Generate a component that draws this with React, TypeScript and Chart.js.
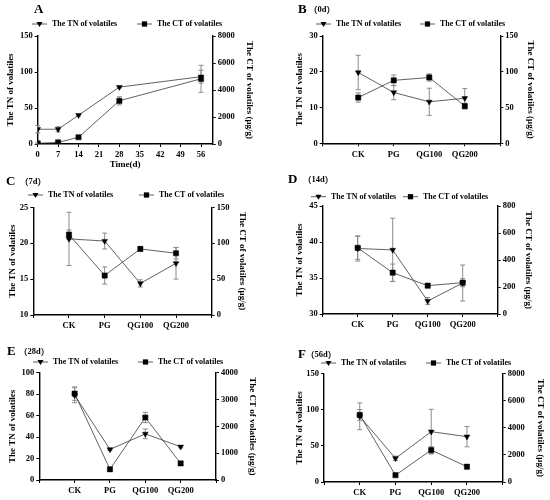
import { useEffect, useRef } from "react";
import { Chart, registerables } from "chart.js";

Chart.register(...registerables);

const FONT = '"Liberation Serif", "Noto Sans CJK SC", serif';
const CJK = '"Noto Sans CJK SC", "Liberation Serif", serif';

const days = [0, 7, 14, 28, 56];
const groups = ["CK", "PG", "QG100", "QG200"];
const groupPos = [1, 2, 3, 4];

// A: time course
const tnA = [20.5, 20.5, 40, 79, 93.5];
const tnAErr = [5, 3.5, 1, 1, 9];
const ctA = [50, 120, 500, 3200, 4830];
const ctAErr = [40, 40, 60, 300, 1000];
// B: 0d
const tnB = [19.8, 14.2, 11.6, 12.6];
const tnBErr = [4.8, 2, 3.8, 2.7];
const ctB = [64, 88, 92, 52];
const ctBErr = [6.5, 7.5, 5, 4];
// C: 7d
const tnC = [20.6, 20.3, 14.4, 17.2];
const tnCErr = [3.7, 1.1, 0.5, 2.2];
const ctC = [112, 55, 92, 86];
const ctCErr = [6.5, 12, 3, 8];
// D: 14d
const tnD = [39.1, 38.9, 31.8, 34.3];
const tnDErr = [1.75, 4.4, 0.5, 2.5];
const ctD = [490, 306, 210, 232];
const ctDErr = [85, 64, 15, 30];
// E: 28d
const tnE = [79, 28.5, 43, 31];
const tnEErr = [7, 1, 4.5, 1];
const ctE = [3220, 400, 2330, 620];
const ctEErr = [250, 40, 190, 50];
// F: 56d
const tnF = [91, 32.8, 69.7, 62.8];
const tnFErr = [18.5, 3, 31, 14];
const ctF = [4950, 500, 2360, 1130];
const ctFErr = [400, 50, 250, 160];

const TN_LABEL = "The TN of volatiles";
const CT_LABEL = "The CT of volatiles";
const CT_TITLE = "The CT of volatiles (μg/g)";

type Spec = {
  box: { x: number; y: number; w: number; h: number };
  area: { l: number; t: number; r: number; b: number };
  letter: string;
  letterX: number;
  letterY: number;
  sub?: string;
  subX?: number;
  legendX: [number, number];
  legendY: number;
  xs: number[];
  xMin: number;
  xMax: number;
  xStep: number;
  xNames?: string[];
  xTitle?: string;
  xTitleY?: number;
  tn: number[];
  tnErr: number[];
  ct: number[];
  ctErr: number[];
  yMin: number;
  yMax: number;
  yStep: number;
  y1Max: number;
  y1Step: number;
  leftTitleX: number;
  rightTitleX: number;
};

const errorBars = {
  id: "errorBars",
  beforeDatasetsDraw(chart: any) {
    const { ctx } = chart;
    ctx.save();
    ctx.strokeStyle = "#8c8c8c";
    ctx.lineWidth = 1;
    chart.data.datasets.forEach((ds: any, i: number) => {
      const meta = chart.getDatasetMeta(i);
      const scale = chart.scales[meta.yAxisID];
      (ds.errors || []).forEach((e: number, j: number) => {
        const pt = meta.data[j];
        const v = ds.data[j].y;
        const top = scale.getPixelForValue(v + e);
        const bot = scale.getPixelForValue(v - e);
        ctx.beginPath();
        ctx.moveTo(pt.x, top);
        ctx.lineTo(pt.x, bot);
        ctx.moveTo(pt.x - 2.5, top);
        ctx.lineTo(pt.x + 2.5, top);
        ctx.moveTo(pt.x - 2.5, bot);
        ctx.lineTo(pt.x + 2.5, bot);
        ctx.stroke();
      });
    });
    ctx.restore();
  },
};

function marker(ctx: CanvasRenderingContext2D, kind: string, x: number, y: number) {
  ctx.fillStyle = "#000";
  if (kind === "tri") {
    ctx.beginPath();
    ctx.moveTo(x - 3, y - 2);
    ctx.lineTo(x + 3, y - 2);
    ctx.lineTo(x, y + 3);
    ctx.closePath();
    ctx.fill();
  } else {
    ctx.fillRect(x - 2.6, y - 2.6, 5.2, 5.2);
  }
}

function decorations(s: Spec) {
  return {
    id: "decorations",
    afterDraw(chart: any) {
      const { ctx } = chart;
      const ox = s.box.x;
      const oy = s.box.y;
      ctx.save();
      ctx.fillStyle = "#000";
      ctx.textBaseline = "middle";
      ctx.textAlign = "left";
      ctx.font = `bold 13px ${FONT}`;
      ctx.fillText(s.letter, s.letterX - ox, s.letterY - oy);
      if (s.sub) {
        // full-width brackets from the CJK font, the day count in serif
        let x = (s.subX as number) - ox;
        const y = s.letterY - oy;
        const parts: [string, string][] = [
          ["（", CJK],
          [s.sub, FONT],
          ["）", CJK],
        ];
        parts.forEach(([t, f]) => {
          ctx.font = `bold 8.5px ${f}`;
          ctx.fillText(t, x, y);
          x += ctx.measureText(t).width;
        });
      }
      const items: [string, string][] = [
        ["tri", TN_LABEL],
        ["rect", CT_LABEL],
      ];
      items.forEach(([kind, text], k) => {
        const x0 = s.legendX[k] - ox;
        const y = s.legendY - oy;
        ctx.strokeStyle = "#333";
        ctx.lineWidth = 0.8;
        ctx.beginPath();
        ctx.moveTo(x0, y);
        ctx.lineTo(x0 + 15, y);
        ctx.stroke();
        marker(ctx, kind, x0 + 7.5, y);
        ctx.fillStyle = "#000";
        ctx.font = `bold 8px ${FONT}`;
        ctx.fillText(text, x0 + 20, y);
      });
      ctx.restore();
    },
  };
}

const tickFont = { family: FONT, size: 8.5, weight: "bold" as const };
const titleFont = { family: FONT, size: 9, weight: "bold" as const };
const HALF_LH = 9 * 1.2 / 2;

function Panel({ s }: { s: Spec }) {
  const canvasRef = useRef<HTMLCanvasElement>(null);

  useEffect(() => {
    const canvas = canvasRef.current;
    if (!canvas) return;
    const { box, area } = s;
    const axisBase = {
      grid: { drawOnChartArea: false, drawTicks: true, tickLength: 3, color: "#000", lineWidth: 1 },
      border: { display: true, color: "#000", width: 1.4 },
    };
    const chart = new Chart(canvas, {
      type: "line",
      data: {
        datasets: [
          {
            label: TN_LABEL,
            data: s.xs.map((x, i) => ({ x, y: s.tn[i] })),
            errors: s.tnErr,
            yAxisID: "y",
            borderColor: "#3a3a3a",
            borderWidth: 0.8,
            pointStyle: "triangle",
            pointRotation: 180,
            pointRadius: 3.3,
            pointBackgroundColor: "#000",
            pointBorderColor: "#000",
            pointBorderWidth: 0.5,
          } as any,
          {
            label: CT_LABEL,
            data: s.xs.map((x, i) => ({ x, y: s.ct[i] })),
            errors: s.ctErr,
            yAxisID: "y1",
            borderColor: "#3a3a3a",
            borderWidth: 0.8,
            pointStyle: "rect",
            pointRadius: 3.7,
            pointBackgroundColor: "#000",
            pointBorderColor: "#000",
            pointBorderWidth: 0.5,
          } as any,
        ],
      },
      options: {
        animation: false,
        responsive: true,
        maintainAspectRatio: false,
        layout: { padding: { top: area.t - box.y, left: 0, right: 0, bottom: 0 } },
        plugins: {
          legend: { display: false },
          title: { display: false },
          tooltip: { enabled: false },
        },
        scales: {
          x: {
            type: "linear",
            position: "bottom",
            min: s.xMin,
            max: s.xMax,
            afterFit: (sc: any) => {
              sc.height = box.y + box.h - area.b;
              sc.paddingLeft = 0;
              sc.paddingRight = 0;
            },
            ticks: {
              stepSize: s.xStep,
              includeBounds: false,
              autoSkip: false,
              maxRotation: 0,
              padding: 3,
              color: "#000",
              font: tickFont,
              callback: (v: any) => (s.xNames ? s.xNames[Number(v) - 1] ?? "" : String(v)),
            },
            title: s.xTitle
              ? {
                  display: true,
                  text: s.xTitle,
                  color: "#000",
                  font: titleFont,
                  padding: { top: 0, bottom: box.y + box.h - (s.xTitleY as number) - HALF_LH },
                }
              : { display: false },
            ...axisBase,
          },
          y: {
            position: "left",
            min: s.yMin,
            max: s.yMax,
            afterFit: (sc: any) => {
              sc.width = area.l - box.x;
              sc.paddingTop = 0;
              sc.paddingBottom = 0;
            },
            ticks: {
              stepSize: s.yStep,
              padding: 2,
              color: "#000",
              font: tickFont,
              callback: (v: any) => String(v),
            },
            title: {
              display: true,
              text: TN_LABEL,
              color: "#000",
              font: titleFont,
              padding: { top: s.leftTitleX - box.x - HALF_LH, bottom: 0 },
            },
            ...axisBase,
          },
          y1: {
            position: "right",
            min: 0,
            max: s.y1Max,
            afterFit: (sc: any) => {
              sc.width = box.x + box.w - area.r;
              sc.paddingTop = 0;
              sc.paddingBottom = 0;
            },
            ticks: {
              stepSize: s.y1Step,
              padding: 2,
              color: "#000",
              font: tickFont,
              callback: (v: any) => String(v),
            },
            title: {
              display: true,
              text: CT_TITLE,
              color: "#000",
              font: titleFont,
              padding: { top: box.x + box.w - s.rightTitleX - HALF_LH, bottom: 0 },
            },
            ...axisBase,
          },
        },
      } as any,
      plugins: [errorBars, decorations(s)],
    });
    return () => chart.destroy();
  }, [s]);

  return (
    <div
      style={{
        position: "absolute",
        left: s.box.x,
        top: s.box.y,
        width: s.box.w,
        height: s.box.h,
      }}
    >
      <canvas ref={canvasRef} />
    </div>
  );
}

const panels: Spec[] = [
  {
    box: { x: 0, y: 0, w: 275, h: 172 },
    area: { l: 37.7, t: 36, r: 212.7, b: 144 },
    letter: "A", letterX: 34, letterY: 10,
    legendX: [32, 137], legendY: 24,
    xs: days, xMin: 0, xMax: 60, xStep: 7,
    xTitle: "Time(d)", xTitleY: 165,
    tn: tnA, tnErr: tnAErr, ct: ctA, ctErr: ctAErr,
    yMin: 0, yMax: 150, yStep: 50, y1Max: 8000, y1Step: 2000,
    leftTitleX: 10.7, rightTitleX: 249,
  },
  {
    box: { x: 275, y: 0, w: 275, h: 160 },
    area: { l: 322.7, t: 36, r: 500.3, b: 143.3 },
    letter: "B", letterX: 298, letterY: 10, sub: "0d", subX: 309,
    legendX: [316, 420], legendY: 24,
    xs: groupPos, xMin: 0, xMax: 5, xStep: 1, xNames: groups,
    tn: tnB, tnErr: tnBErr, ct: ctB, ctErr: ctBErr,
    yMin: 0, yMax: 30, yStep: 10, y1Max: 150, y1Step: 50,
    leftTitleX: 300, rightTitleX: 530,
  },
  {
    box: { x: 0, y: 168, w: 275, h: 162 },
    area: { l: 33.3, t: 207.3, r: 211.7, b: 315 },
    letter: "C", letterX: 6, letterY: 181.7, sub: "7d", subX: 20,
    legendX: [28, 139], legendY: 195,
    xs: groupPos, xMin: 0, xMax: 5, xStep: 1, xNames: groups,
    tn: tnC, tnErr: tnCErr, ct: ctC, ctErr: ctCErr,
    yMin: 10, yMax: 25, yStep: 5, y1Max: 150, y1Step: 50,
    leftTitleX: 12.7, rightTitleX: 242.7,
  },
  {
    box: { x: 275, y: 165, w: 275, h: 165 },
    area: { l: 322.7, t: 206, r: 497.7, b: 314 },
    letter: "D", letterX: 288, letterY: 180, sub: "14d", subX: 303,
    legendX: [311, 403], legendY: 196.7,
    xs: groupPos, xMin: 0, xMax: 5, xStep: 1, xNames: groups,
    tn: tnD, tnErr: tnDErr, ct: ctD, ctErr: ctDErr,
    yMin: 30, yMax: 45, yStep: 5, y1Max: 800, y1Step: 200,
    leftTitleX: 299.3, rightTitleX: 528.3,
  },
  {
    box: { x: 0, y: 330, w: 275, h: 170 },
    area: { l: 39.3, t: 372.7, r: 216, b: 480 },
    letter: "E", letterX: 7, letterY: 351.7, sub: "28d", subX: 19,
    legendX: [33, 138], legendY: 362,
    xs: groupPos, xMin: 0, xMax: 5, xStep: 1, xNames: groups,
    tn: tnE, tnErr: tnEErr, ct: ctE, ctErr: ctEErr,
    yMin: 0, yMax: 100, yStep: 20, y1Max: 4000, y1Step: 1000,
    leftTitleX: 12.7, rightTitleX: 252.7,
  },
  {
    box: { x: 275, y: 330, w: 275, h: 170 },
    area: { l: 324, t: 373.7, r: 502.7, b: 482 },
    letter: "F", letterX: 298, letterY: 355, sub: "56d", subX: 306,
    legendX: [321, 426], legendY: 363,
    xs: groupPos, xMin: 0, xMax: 5, xStep: 1, xNames: groups,
    tn: tnF, tnErr: tnFErr, ct: ctF, ctErr: ctFErr,
    yMin: 0, yMax: 150, yStep: 50, y1Max: 8000, y1Step: 2000,
    leftTitleX: 300, rightTitleX: 540,
  },
];

export default function App() {
  return (
    <div
      style={{
        position: "absolute",
        left: 0,
        top: 0,
        width: 550,
        height: 500,
        background: "#fff",
        overflow: "hidden",
      }}
    >
      {panels.map((p) => (
        <Panel key={p.letter} s={p} />
      ))}
    </div>
  );
}
